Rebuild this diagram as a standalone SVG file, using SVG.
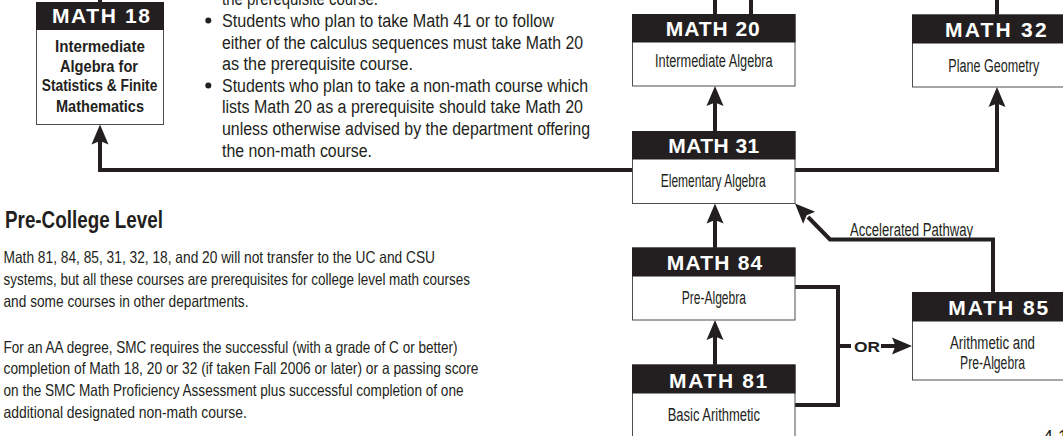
<svg xmlns="http://www.w3.org/2000/svg" width="1063" height="436" viewBox="0 0 1063 436">
<style>
.box{fill:#fff;stroke:#4d4d4d;stroke-width:1}
.hdr{fill:#231f20;stroke:#231f20;stroke-width:1}
.ht{font-family:"Liberation Sans",Arial,sans-serif;font-weight:bold;font-size:21px;fill:#fff}
.bt{font-family:"Liberation Sans",Arial,sans-serif;font-size:18px;fill:#231f20}
.bb{font-family:"Liberation Sans",Arial,sans-serif;font-size:16px;font-weight:bold;fill:#231f20}
.tx{font-family:"Liberation Sans",Arial,sans-serif;font-size:18px;fill:#231f20}
.pt{font-family:"Liberation Sans",Arial,sans-serif;font-size:16.5px;fill:#231f20}
.h2{font-family:"Liberation Sans",Arial,sans-serif;font-size:23px;font-weight:bold;fill:#231f20}
.or{font-family:"Liberation Sans",Arial,sans-serif;font-size:15.5px;font-weight:bold;fill:#231f20}
.ln{fill:none;stroke:#231f20;stroke-width:4;stroke-linejoin:miter}
.ah{fill:#231f20}
</style>
<defs>
<path id="ah" d="M0,0 L8.5,20 L0,16.5 L-8.5,20 Z"/>
</defs>

<g id="connectors">
<path class="ln" d="M100,-2 V3"/>
<path class="ln" d="M715,-2 V15"/>
<path class="ln" d="M751,-2 V15"/>
<path class="ln" d="M997,-2 V15"/>
<path class="ln" d="M715,131.5 V100"/>
<use href="#ah" class="ah" transform="translate(715,86)"/>
<path class="ln" d="M632.5,170 H100 V140"/>
<use href="#ah" class="ah" transform="translate(100,124.5)"/>
<path class="ln" d="M795,170 H997 V103"/>
<use href="#ah" class="ah" transform="translate(997,87)"/>
<path class="ln" d="M715,248 V218"/>
<use href="#ah" class="ah" transform="translate(715,203.5)"/>
<path class="ln" d="M715,365 V335"/>
<use href="#ah" class="ah" transform="translate(715,320)"/>
<path class="ln" d="M795,287 H838 V405 H795"/>
<path class="ln" d="M838,346 H851"/>
<text class="or" x="854" y="352" textLength="26" lengthAdjust="spacingAndGlyphs">OR</text>
<path class="ln" d="M881,346 H898"/>
<use href="#ah" class="ah" transform="translate(912,346) rotate(90)"/>
<path class="ln" d="M993,292.5 V239.5 H830 L808,217"/>
<use href="#ah" class="ah" transform="translate(795,203.5) rotate(-45)"/>
<text class="bt" x="850" y="236" textLength="123" lengthAdjust="spacingAndGlyphs">Accelerated Pathway</text>
</g>

<g id="math18">
<rect class="box" x="36.5" y="2.5" width="127" height="122"/>
<rect class="hdr" x="36.5" y="2.5" width="127" height="27"/>
<text class="ht" x="52" y="23.3" textLength="98" lengthAdjust="spacing">MATH 18</text>
<text class="bb" x="55" y="51.5" textLength="90" lengthAdjust="spacingAndGlyphs">Intermediate</text>
<text class="bb" x="60" y="71.5" textLength="78" lengthAdjust="spacingAndGlyphs">Algebra for</text>
<text class="bb" x="41.7" y="91" textLength="115.6" lengthAdjust="spacingAndGlyphs">Statistics &amp; Finite</text>
<text class="bb" x="56" y="111.5" textLength="88" lengthAdjust="spacingAndGlyphs">Mathematics</text>
</g>

<g id="math20">
<rect class="box" x="632.5" y="14.5" width="162.5" height="71.5"/>
<rect class="hdr" x="632.5" y="14.5" width="162.5" height="27.5"/>
<text class="ht" x="665.7" y="36" textLength="94" lengthAdjust="spacing">MATH 20</text>
<text class="bt" x="655" y="67" textLength="117.7" lengthAdjust="spacingAndGlyphs">Intermediate Algebra</text>
</g>

<g id="math31">
<rect class="box" x="632.5" y="131.5" width="162.5" height="72"/>
<rect class="hdr" x="632.5" y="131.5" width="162.5" height="27.5"/>
<text class="ht" x="668.3" y="153.3" textLength="91" lengthAdjust="spacing">MATH 31</text>
<text class="bt" x="660.7" y="187" textLength="105" lengthAdjust="spacingAndGlyphs">Elementary Algebra</text>
</g>

<g id="math84">
<rect class="box" x="632.5" y="248" width="162.5" height="72"/>
<rect class="hdr" x="632.5" y="248" width="162.5" height="28"/>
<text class="ht" x="666.7" y="270" textLength="95.6" lengthAdjust="spacing">MATH 84</text>
<text class="bt" x="681.7" y="303.5" textLength="64.3" lengthAdjust="spacingAndGlyphs">Pre-Algebra</text>
</g>

<g id="math81">
<rect class="box" x="632.5" y="365" width="162.5" height="80"/>
<rect class="hdr" x="632.5" y="365" width="162.5" height="28"/>
<text class="ht" x="669" y="387.5" textLength="98.3" lengthAdjust="spacing">MATH 81</text>
<text class="bt" x="667.7" y="421" textLength="92.3" lengthAdjust="spacingAndGlyphs">Basic Arithmetic</text>
</g>

<g id="math32">
<rect class="box" x="912.5" y="15" width="157.5" height="72"/>
<rect class="hdr" x="912.5" y="15" width="157.5" height="28"/>
<text class="ht" x="945" y="36.7" textLength="101.7" lengthAdjust="spacing">MATH 32</text>
<text class="bt" x="948.3" y="71.5" textLength="91" lengthAdjust="spacingAndGlyphs">Plane Geometry</text>
</g>

<g id="math85">
<rect class="box" x="912.5" y="292.5" width="157.5" height="87.5"/>
<rect class="hdr" x="912.5" y="292.5" width="157.5" height="28.5"/>
<text class="ht" x="948.3" y="315" textLength="100" lengthAdjust="spacing">MATH 85</text>
<text class="bt" x="950" y="349" textLength="85" lengthAdjust="spacingAndGlyphs">Arithmetic and</text>
<text class="bt" x="960" y="369.3" textLength="65" lengthAdjust="spacingAndGlyphs">Pre-Algebra</text>
</g>

<g id="notes">
<text class="tx" x="222" y="5.4" textLength="156" lengthAdjust="spacingAndGlyphs">the prerequisite course.</text>
<circle cx="208.3" cy="20.5" r="3" fill="#231f20"/>
<text class="tx" x="222" y="27" textLength="332" lengthAdjust="spacingAndGlyphs">Students who plan to take Math 41 or to follow</text>
<text class="tx" x="222" y="48.6" textLength="361" lengthAdjust="spacingAndGlyphs">either of the calculus sequences must take Math 20</text>
<text class="tx" x="222" y="70.2" textLength="191" lengthAdjust="spacingAndGlyphs">as the prerequisite course.</text>
<circle cx="208.3" cy="85.5" r="3" fill="#231f20"/>
<text class="tx" x="222" y="91.8" textLength="366" lengthAdjust="spacingAndGlyphs">Students who plan to take a non-math course which</text>
<text class="tx" x="222" y="113.4" textLength="361" lengthAdjust="spacingAndGlyphs">lists Math 20 as a prerequisite should take Math 20</text>
<text class="tx" x="222" y="135" textLength="368" lengthAdjust="spacingAndGlyphs">unless otherwise advised by the department offering</text>
<text class="tx" x="222" y="156.6" textLength="150" lengthAdjust="spacingAndGlyphs">the non-math course.</text>
</g>

<g id="precollege">
<text class="h2" x="5" y="228.3" textLength="158" lengthAdjust="spacingAndGlyphs">Pre-College Level</text>
<text class="pt" x="3.5" y="263.3" textLength="431.5" lengthAdjust="spacingAndGlyphs">Math 81, 84, 85, 31, 32, 18, and 20 will not transfer to the UC and CSU</text>
<text class="pt" x="3.5" y="285" textLength="466.5" lengthAdjust="spacingAndGlyphs">systems, but all these courses are prerequisites for college level math courses</text>
<text class="pt" x="3.5" y="306.7" textLength="245" lengthAdjust="spacingAndGlyphs">and some courses in other departments.</text>
<text class="pt" x="3.5" y="352.7" textLength="454" lengthAdjust="spacingAndGlyphs">For an AA degree, SMC requires the successful (with a grade of C or better)</text>
<text class="pt" x="3.5" y="374.3" textLength="475" lengthAdjust="spacingAndGlyphs">completion of Math 18, 20 or 32 (if taken Fall 2006 or later) or a passing score</text>
<text class="pt" x="3.5" y="396" textLength="460" lengthAdjust="spacingAndGlyphs">on the SMC Math Proficiency Assessment plus successful completion of one</text>
<text class="pt" x="3.5" y="417.7" textLength="243.4" lengthAdjust="spacingAndGlyphs">additional designated non-math course.</text>
<text class="tx" x="1043" y="443">4.1</text>
</g>
</svg>
